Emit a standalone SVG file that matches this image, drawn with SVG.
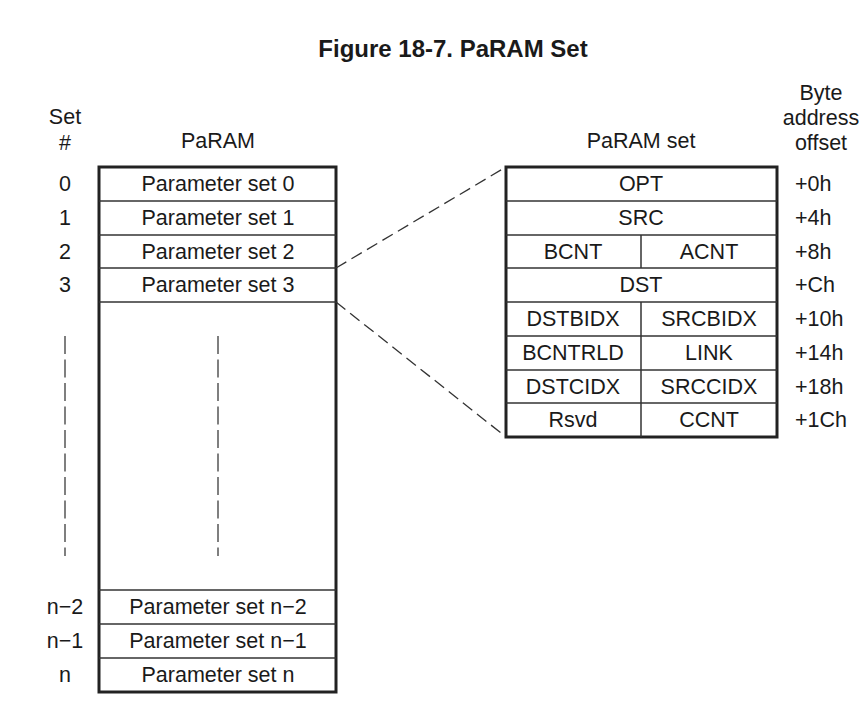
<svg xmlns="http://www.w3.org/2000/svg" width="868" height="711" viewBox="0 0 868 711">
<style>
text{font-family:"Liberation Sans",Arial,sans-serif;font-size:21.5px;fill:#1a1a1a}
.c{text-anchor:middle}
.t{font-weight:bold;font-size:24px}
.box{fill:none;stroke:#222;stroke-width:3}
.ln{stroke:#333;stroke-width:1.5}
.dash{stroke:#333;stroke-width:1.3;stroke-dasharray:12,6;fill:none}
.vd{stroke:#555;stroke-width:1.5;stroke-dasharray:18,5.5}
</style>
<rect width="868" height="711" fill="#fff"/>
<text class="c t" x="453" y="57">Figure 18-7. PaRAM Set</text>
<g id="headers">
<text class="c" x="65" y="124">Set</text>
<text class="c" x="65" y="150">#</text>
<text class="c" x="218" y="148">PaRAM</text>
<text class="c" x="641" y="148">PaRAM set</text>
<text class="c" x="821" y="100">Byte</text>
<text class="c" x="821" y="125">address</text>
<text class="c" x="821" y="150">offset</text>
</g>
<g id="param">
<rect class="box" x="99" y="167" width="237" height="525"/>
<line class="ln" x1="99" y1="201" x2="336" y2="201"/>
<line class="ln" x1="99" y1="235" x2="336" y2="235"/>
<line class="ln" x1="99" y1="268" x2="336" y2="268"/>
<line class="ln" x1="99" y1="302" x2="336" y2="302"/>
<line class="ln" x1="99" y1="590" x2="336" y2="590"/>
<line class="ln" x1="99" y1="624" x2="336" y2="624"/>
<line class="ln" x1="99" y1="658" x2="336" y2="658"/>
<text class="c" x="218" y="191">Parameter set 0</text>
<text class="c" x="218" y="225">Parameter set 1</text>
<text class="c" x="218" y="259">Parameter set 2</text>
<text class="c" x="218" y="292">Parameter set 3</text>
<text class="c" x="218" y="614">Parameter set n−2</text>
<text class="c" x="218" y="648">Parameter set n−1</text>
<text class="c" x="218" y="682">Parameter set n</text>
<line class="vd" x1="218" y1="336" x2="218" y2="556"/>
</g>
<g id="setnums">
<text class="c" x="65" y="191">0</text>
<text class="c" x="65" y="225">1</text>
<text class="c" x="65" y="259">2</text>
<text class="c" x="65" y="292">3</text>
<text class="c" x="65" y="614">n−2</text>
<text class="c" x="65" y="648">n−1</text>
<text class="c" x="65" y="682">n</text>
<line class="vd" x1="65" y1="336" x2="65" y2="556"/>
</g>
<g id="connectors">
<line class="dash" x1="336" y1="268" x2="506" y2="167"/>
<line class="dash" x1="336" y1="302" x2="506" y2="437"/>
</g>
<g id="paramset">
<rect class="box" x="506" y="167" width="271" height="270"/>
<line class="ln" x1="506" y1="201" x2="777" y2="201"/>
<line class="ln" x1="506" y1="235" x2="777" y2="235"/>
<line class="ln" x1="506" y1="268" x2="777" y2="268"/>
<line class="ln" x1="506" y1="302" x2="777" y2="302"/>
<line class="ln" x1="506" y1="336" x2="777" y2="336"/>
<line class="ln" x1="506" y1="370" x2="777" y2="370"/>
<line class="ln" x1="506" y1="403" x2="777" y2="403"/>
<line class="ln" x1="641" y1="235" x2="641" y2="268"/>
<line class="ln" x1="641" y1="302" x2="641" y2="437"/>
<text class="c" x="641" y="191">OPT</text>
<text class="c" x="641" y="225">SRC</text>
<text class="c" x="573" y="259">BCNT</text>
<text class="c" x="709" y="259">ACNT</text>
<text class="c" x="641" y="292">DST</text>
<text class="c" x="573" y="326">DSTBIDX</text>
<text class="c" x="709" y="326">SRCBIDX</text>
<text class="c" x="573" y="360">BCNTRLD</text>
<text class="c" x="709" y="360">LINK</text>
<text class="c" x="573" y="394">DSTCIDX</text>
<text class="c" x="709" y="394">SRCCIDX</text>
<text class="c" x="573" y="427">Rsvd</text>
<text class="c" x="709" y="427">CCNT</text>
</g>
<g id="offsets">
<text x="795" y="191">+0h</text>
<text x="795" y="225">+4h</text>
<text x="795" y="259">+8h</text>
<text x="795" y="292">+Ch</text>
<text x="795" y="326">+10h</text>
<text x="795" y="360">+14h</text>
<text x="795" y="394">+18h</text>
<text x="795" y="427">+1Ch</text>
</g>
</svg>
